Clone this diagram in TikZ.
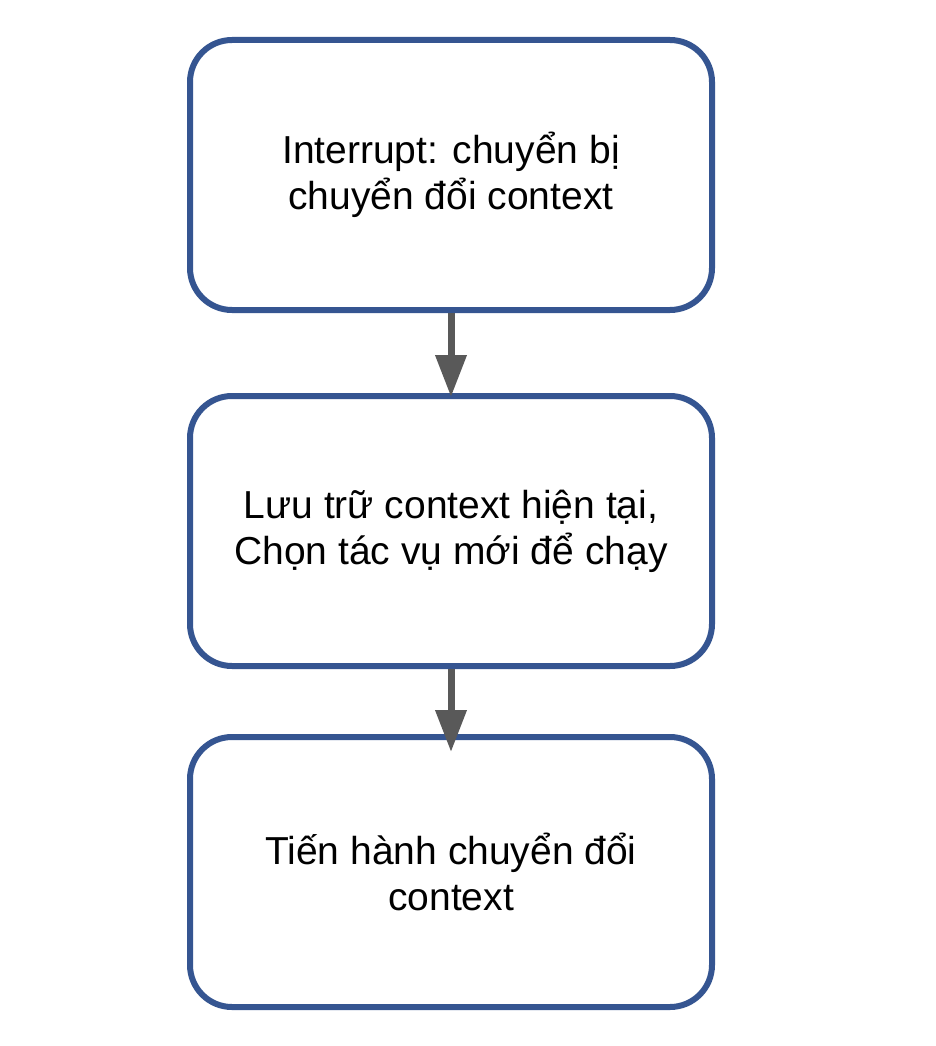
\documentclass[tikz,border=0pt]{standalone}
\usepackage{fontspec}
\setmainfont{Liberation Sans}
\usetikzlibrary{arrows.meta}
\definecolor{boxblue}{RGB}{53,85,145}
\definecolor{arrgray}{RGB}{89,89,89}
\begin{document}
\begin{tikzpicture}[x=1pt,y=-1pt,
 box/.style={draw=boxblue, line width=6pt, rounded corners=42pt, minimum width=522pt, minimum height=270pt, inner sep=0pt, align=center, font=\fontsize{39}{46}\selectfont, fill=white},
 conn/.style={draw=arrgray, line width=7pt, -{Triangle[length=42pt,width=30pt]}}]
\useasboundingbox[fill=white] (0,0) rectangle (936,1046);
\node[box] (b1) at (451,175) {Interrupt: chuyển bị\\chuyển đổi context};
\node[box] (b2) at (451,531) {Lưu trữ context hiện tại,\\Chọn tác vụ mới để chạy};
\node[box] (b3) at (451,872) {Tiến hành chuyển đổi\\context};
\draw[conn, shorten >=-4pt] (b1.south) -- (b2.north);
\draw[conn, shorten >=-18pt] (b2.south) -- (b3.north);
\end{tikzpicture}
\end{document}
